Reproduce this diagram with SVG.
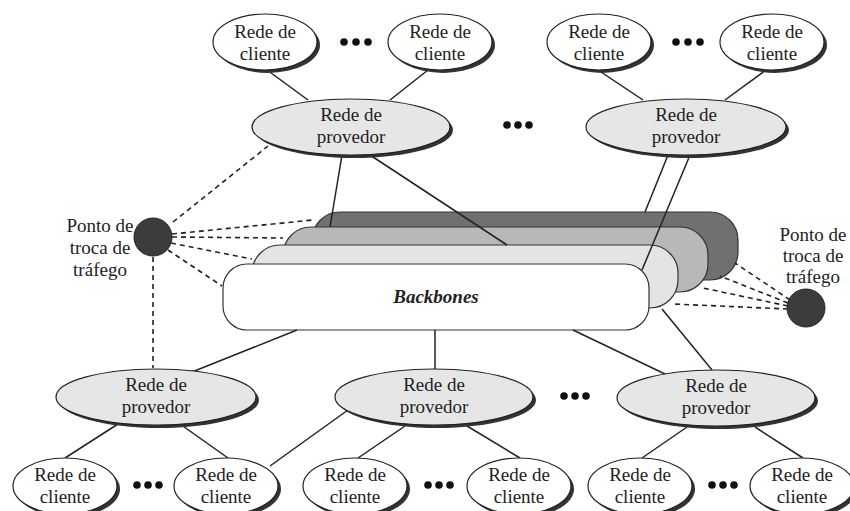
<svg xmlns="http://www.w3.org/2000/svg" width="850" height="511" viewBox="0 0 850 511">
<style>
.t{font-family:"Liberation Serif","Times New Roman",serif;font-size:19px;fill:#222;text-anchor:middle}
.b{font-weight:bold;font-style:italic}
.ln{stroke:#222;stroke-width:1.5;fill:none}
.dl{stroke:#222;stroke-width:1.6;fill:none;stroke-dasharray:5 4}
.sh{fill:#333}
.cl{fill:#fff;stroke:#222;stroke-width:1.2}
.pr{fill:#e6e6e6;stroke:#222;stroke-width:1.2}
.lay{stroke:#333;stroke-width:1.2}
.dot{fill:#111}
.ix{fill:#3c3c3c;stroke:#222;stroke-width:1}
</style>
<rect width="850" height="511" fill="#fff"/>
<g id="backbones">
<rect class="lay" x="312" y="212" width="426" height="68" rx="28" fill="#707070"/>
<rect class="lay" x="283" y="227" width="425" height="65" rx="28" fill="#b8b8b8"/>
<rect class="lay" x="252" y="245" width="426" height="63" rx="28" fill="#e4e4e4"/>
<rect class="lay" x="223" y="264" width="426" height="66" rx="24" fill="#fff"/>
<text class="t b" x="436" y="303">Backbones</text>
</g>
<g id="connectors">
<line class="ln" x1="267" y1="70" x2="308" y2="100"/>
<line class="ln" x1="428" y1="70" x2="390" y2="100"/>
<line class="ln" x1="598" y1="70" x2="643" y2="100"/>
<line class="ln" x1="766" y1="70" x2="725" y2="100"/>
<line class="ln" x1="342" y1="155" x2="330" y2="227"/>
<line class="ln" x1="370" y1="155" x2="507" y2="245"/>
<line class="ln" x1="668" y1="155" x2="645" y2="212"/>
<line class="ln" x1="690" y1="155" x2="642" y2="270"/>
<line class="dl" x1="173" y1="222" x2="268" y2="146"/>
<line class="dl" x1="172" y1="234" x2="313" y2="220"/>
<line class="dl" x1="172" y1="237" x2="283" y2="238"/>
<line class="dl" x1="171" y1="243" x2="252" y2="259"/>
<line class="dl" x1="168" y1="250" x2="222" y2="286"/>
<line class="dl" x1="153" y1="257" x2="153" y2="368"/>
<line class="dl" x1="790" y1="300" x2="735" y2="263"/>
<line class="dl" x1="788" y1="303" x2="720" y2="276"/>
<line class="dl" x1="788" y1="306" x2="703" y2="288"/>
<line class="dl" x1="788" y1="309" x2="673" y2="304"/>
<line class="ln" x1="297" y1="330" x2="192" y2="372"/>
<line class="ln" x1="435" y1="330" x2="435" y2="369"/>
<line class="ln" x1="573" y1="330" x2="665" y2="374"/>
<line class="ln" x1="662" y1="309" x2="712" y2="370"/>
<line class="ln" x1="118" y1="424" x2="65" y2="458"/>
<line class="ln" x1="180" y1="424" x2="228" y2="458"/>
<line class="ln" x1="348" y1="410" x2="270" y2="466"/>
<line class="ln" x1="405" y1="426" x2="358" y2="458"/>
<line class="ln" x1="467" y1="426" x2="520" y2="458"/>
<line class="ln" x1="687" y1="427" x2="642" y2="458"/>
<line class="ln" x1="755" y1="427" x2="803" y2="458"/>
</g>
<g id="client-t1"><ellipse class="sh" cx="268" cy="45" rx="52" ry="28"/><ellipse class="cl" cx="265" cy="42" rx="52" ry="28"/><text class="t" x="265" y="38">Rede de</text><text class="t" x="265" y="60">cliente</text></g>
<g id="client-t2"><ellipse class="sh" cx="443" cy="45" rx="52" ry="28"/><ellipse class="cl" cx="440" cy="42" rx="52" ry="28"/><text class="t" x="440" y="38">Rede de</text><text class="t" x="440" y="60">cliente</text></g>
<g id="client-t3"><ellipse class="sh" cx="602" cy="45" rx="52" ry="28"/><ellipse class="cl" cx="599" cy="42" rx="52" ry="28"/><text class="t" x="599" y="38">Rede de</text><text class="t" x="599" y="60">cliente</text></g>
<g id="client-t4"><ellipse class="sh" cx="775" cy="45" rx="52" ry="28"/><ellipse class="cl" cx="772" cy="42" rx="52" ry="28"/><text class="t" x="772" y="38">Rede de</text><text class="t" x="772" y="60">cliente</text></g>
<g id="prov-t1"><ellipse class="sh" cx="354" cy="130" rx="99" ry="28"/><ellipse class="pr" cx="351" cy="127" rx="99" ry="28"/><text class="t" x="351" y="121">Rede de</text><text class="t" x="351" y="143">provedor</text></g>
<g id="prov-t2"><ellipse class="sh" cx="689" cy="130" rx="100" ry="28"/><ellipse class="pr" cx="686" cy="127" rx="100" ry="28"/><text class="t" x="686" y="121">Rede de</text><text class="t" x="686" y="143">provedor</text></g>
<g id="prov-b1"><ellipse class="sh" cx="159" cy="400" rx="100" ry="28"/><ellipse class="pr" cx="156" cy="397" rx="100" ry="28"/><text class="t" x="156" y="391">Rede de</text><text class="t" x="156" y="413">provedor</text></g>
<g id="prov-b2"><ellipse class="sh" cx="437" cy="400" rx="99" ry="28"/><ellipse class="pr" cx="434" cy="397" rx="99" ry="28"/><text class="t" x="434" y="391">Rede de</text><text class="t" x="434" y="413">provedor</text></g>
<g id="prov-b3"><ellipse class="sh" cx="719" cy="401" rx="99" ry="28"/><ellipse class="pr" cx="716" cy="398" rx="99" ry="28"/><text class="t" x="716" y="392">Rede de</text><text class="t" x="716" y="414">provedor</text></g>
<g id="client-b1"><ellipse class="sh" cx="68" cy="489" rx="52" ry="28"/><ellipse class="cl" cx="65" cy="486" rx="52" ry="28"/><text class="t" x="65" y="481">Rede de</text><text class="t" x="65" y="503">cliente</text></g>
<g id="client-b2"><ellipse class="sh" cx="229" cy="489" rx="52" ry="28"/><ellipse class="cl" cx="226" cy="486" rx="52" ry="28"/><text class="t" x="226" y="481">Rede de</text><text class="t" x="226" y="503">cliente</text></g>
<g id="client-b3"><ellipse class="sh" cx="358" cy="489" rx="52" ry="28"/><ellipse class="cl" cx="355" cy="486" rx="52" ry="28"/><text class="t" x="355" y="481">Rede de</text><text class="t" x="355" y="503">cliente</text></g>
<g id="client-b4"><ellipse class="sh" cx="522" cy="489" rx="52" ry="28"/><ellipse class="cl" cx="519" cy="486" rx="52" ry="28"/><text class="t" x="519" y="481">Rede de</text><text class="t" x="519" y="503">cliente</text></g>
<g id="client-b5"><ellipse class="sh" cx="643" cy="489" rx="52" ry="28"/><ellipse class="cl" cx="640" cy="486" rx="52" ry="28"/><text class="t" x="640" y="481">Rede de</text><text class="t" x="640" y="503">cliente</text></g>
<g id="client-b6"><ellipse class="sh" cx="805" cy="489" rx="52" ry="28"/><ellipse class="cl" cx="802" cy="486" rx="52" ry="28"/><text class="t" x="802" y="481">Rede de</text><text class="t" x="802" y="503">cliente</text></g>
<g id="ixp-left"><circle class="ix" cx="153" cy="237" r="19"/><text class="t" x="100" y="232">Ponto de</text><text class="t" x="100" y="254">troca de</text><text class="t" x="100" y="276">tráfego</text></g>
<g id="ixp-right"><circle class="ix" cx="806" cy="308" r="19"/><text class="t" x="813" y="241">Ponto de</text><text class="t" x="813" y="262">troca de</text><text class="t" x="813" y="283">tráfego</text></g>
<g id="ellipsis">
<circle class="dot" cx="344" cy="42" r="3.8"/><circle class="dot" cx="356" cy="42" r="3.8"/><circle class="dot" cx="368" cy="42" r="3.8"/>
<circle class="dot" cx="676" cy="42" r="3.8"/><circle class="dot" cx="688" cy="42" r="3.8"/><circle class="dot" cx="700" cy="42" r="3.8"/>
<circle class="dot" cx="507" cy="125" r="3.8"/><circle class="dot" cx="518" cy="125" r="3.8"/><circle class="dot" cx="529" cy="125" r="3.8"/>
<circle class="dot" cx="564" cy="396" r="3.8"/><circle class="dot" cx="575" cy="396" r="3.8"/><circle class="dot" cx="586" cy="396" r="3.8"/>
<circle class="dot" cx="137" cy="485" r="3.8"/><circle class="dot" cx="148" cy="485" r="3.8"/><circle class="dot" cx="159" cy="485" r="3.8"/>
<circle class="dot" cx="428" cy="485" r="3.8"/><circle class="dot" cx="439" cy="485" r="3.8"/><circle class="dot" cx="450" cy="485" r="3.8"/>
<circle class="dot" cx="712" cy="485" r="3.8"/><circle class="dot" cx="723" cy="485" r="3.8"/><circle class="dot" cx="734" cy="485" r="3.8"/>
</g>
</svg>
